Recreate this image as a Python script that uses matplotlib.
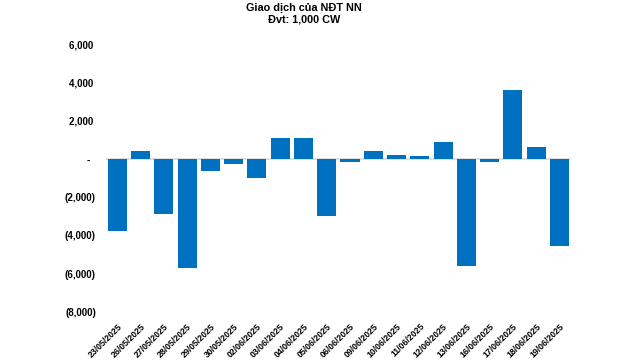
import matplotlib
matplotlib.use('Agg')
import matplotlib.pyplot as plt
from matplotlib.ticker import FuncFormatter, MultipleLocator

plt.rcParams['font.family'] = ['Liberation Sans', 'DejaVu Sans']
plt.rcParams['font.weight'] = 'bold'

# data (1,000 CW)
dates = ['23/05/2025', '26/05/2025', '27/05/2025', '28/05/2025', '29/05/2025',
         '30/05/2025', '02/06/2025', '03/06/2025', '04/06/2025', '05/06/2025',
         '06/06/2025', '09/06/2025', '10/06/2025', '11/06/2025', '12/06/2025',
         '13/06/2025', '16/06/2025', '17/06/2025', '18/06/2025', '19/06/2025']
values = [-3780, 400, -2900, -5700, -650,
          -280, -1010, 1110, 1110, -2990,
          -180, 400, 220, 170, 900,
          -5610, -180, 3610, 640, -4550]

fig = plt.figure(figsize=(6.39, 3.61), dpi=100)
ax = fig.add_axes([0.1654, 0.1357, 0.7282, 0.7423])

x = range(len(values))
ax.bar(x, values, width=0.82, color='#0070C0', zorder=2)
ax.axhline(0, color='#D9D9D9', lw=1.2, zorder=1)

ax.set_xlim(-0.5, len(values) - 0.5)
ax.set_ylim(-8000, 6000)
ax.yaxis.set_major_locator(MultipleLocator(2000))


def fmt(v, pos):
    if v == 0:
        return '-  '
    if v < 0:
        return '({:,.0f})'.format(-v)
    return '{:,.0f} '.format(v)


ax.yaxis.set_major_formatter(FuncFormatter(fmt))
ax.set_xticks(list(x))
ax.set_xticklabels(dates, rotation=45, ha='right', rotation_mode='anchor',
                   fontsize=6.3)
ax.tick_params(axis='x', length=0, pad=7)
ax.tick_params(axis='y', length=0, pad=7, labelsize=7)

for s in ax.spines.values():
    s.set_visible(False)

fig.text(0.476, 0.978, 'Giao dịch của NĐT NN', ha='center', va='center',
         fontsize=7.8, fontweight='bold')
fig.text(0.476, 0.945, 'Đvt: 1,000 CW', ha='center', va='center',
         fontsize=7.8, fontweight='bold')

fig.savefig('out.png', dpi=100)
